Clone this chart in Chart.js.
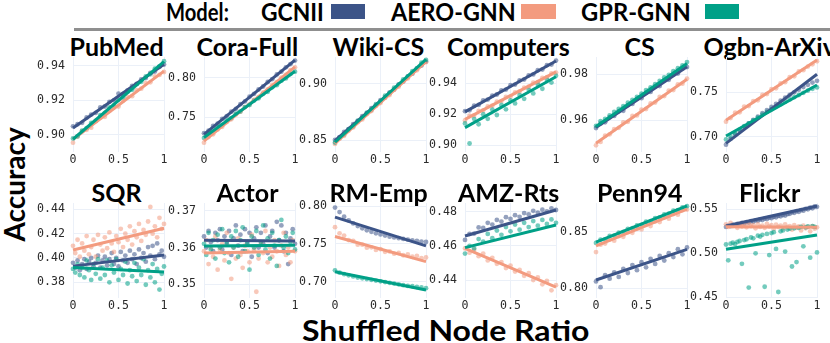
<!DOCTYPE html>
<html><head><meta charset="utf-8">
<script src="https://cdn.jsdelivr.net/npm/chart.js@4.4.0/dist/chart.umd.min.js"></script>
<style>
html,body{margin:0;padding:0;background:#fff;}
#wrap{position:relative;width:830px;height:343px;overflow:hidden;font-family:Lato,'Open Sans',sans-serif;color:#000;}
.t{position:absolute;white-space:nowrap;line-height:1;}
canvas{position:absolute;}
</style></head><body><div id="wrap"></div>
<script>
// ---------------- DATA ----------------
const models = ['GCNII','AERO-GNN','GPR-GNN'];
const panelTitles = ['PubMed','Cora-Full','Wiki-CS','Computers','CS','Ogbn-ArXiv','SQR','Actor','RM-Emp','AMZ-Rts','Penn94','Flickr'];
const ratios = [0,0.05,0.1,0.15,0.2,0.25,0.3,0.35,0.4,0.45,0.5,0.55,0.6,0.65,0.7,0.75,0.8,0.85,0.9,0.95,1];
const ratiosFine = [0,0.025,0.05,0.075,0.1,0.125,0.15,0.175,0.2,0.225,0.25,0.275,0.3,0.325,0.35,0.375,0.4,0.425,0.45,0.475,0.5,0.525,0.55,0.575,0.6,0.625,0.65,0.675,0.7,0.725,0.75,0.775,0.8,0.825,0.85,0.875,0.9,0.925,0.95,0.975,1];
const xTickValues = [0,0.5,1];
const xTickLabels = ['0','0.5','1'];

const PubMed_GCNII = [0.9050,0.9062,0.9070,0.9101,0.9118,0.9128,0.9160,0.9165,0.9192,0.9201,0.9240,0.9238,0.9258,0.9285,0.9296,0.9322,0.9330,0.9360,0.9368,0.9395,0.9408];
const PubMed_AERO  = [0.8955,0.8990,0.9022,0.9030,0.9042,0.9080,0.9100,0.9105,0.9140,0.9160,0.9165,0.9198,0.9220,0.9225,0.9260,0.9268,0.9300,0.9305,0.9340,0.9348,0.9365];
const PubMed_GPR   = [0.8980,0.8992,0.9025,0.9040,0.9070,0.9082,0.9115,0.9128,0.9160,0.9172,0.9205,0.9218,0.9250,0.9262,0.9295,0.9308,0.9340,0.9352,0.9385,0.9398,0.9428];
const PubMed_trend = [[0.904,0.941],[0.8975,0.937],[0.8975,0.9425]];
const PubMed_yticks = [0.90,0.92,0.94];
const PubMed_yrange = [0.8901,0.9452];

const CoraFull_GCNII = [0.7300,0.7330,0.7390,0.7420,0.7480,0.7515,0.7570,0.7605,0.7665,0.7700,0.7760,0.7795,0.7850,0.7888,0.7945,0.7980,0.8040,0.8075,0.8130,0.8170,0.8215];
const CoraFull_AERO  = [0.7180,0.7250,0.7285,0.7345,0.7380,0.7440,0.7475,0.7535,0.7570,0.7628,0.7660,0.7720,0.7755,0.7815,0.7850,0.7908,0.7942,0.8000,0.8035,0.8095,0.8130];
const CoraFull_GPR   = [0.7240,0.7295,0.7320,0.7378,0.7405,0.7460,0.7490,0.7545,0.7572,0.7628,0.7655,0.7710,0.7740,0.7795,0.7822,0.7878,0.7905,0.7962,0.7990,0.8045,0.8075];
const CoraFull_trend = [[0.7285,0.822],[0.720,0.8135],[0.7245,0.808]];
const CoraFull_yticks = [0.75,0.80];
const CoraFull_yrange = [0.7062,0.826];

const WikiCS_GCNII = [0.8500,0.8525,0.8572,0.8598,0.8642,0.8668,0.8712,0.8740,0.8784,0.8810,0.8855,0.8880,0.8926,0.8950,0.8996,0.9022,0.9068,0.9092,0.9138,0.9165,0.9200];
const WikiCS_AERO  = [0.8465,0.8512,0.8538,0.8585,0.8612,0.8660,0.8684,0.8732,0.8758,0.8805,0.8830,0.8878,0.8902,0.8950,0.8976,0.9024,0.9050,0.9096,0.9122,0.9170,0.9195];
const WikiCS_GPR   = [0.8478,0.8522,0.8550,0.8598,0.8622,0.8672,0.8698,0.8745,0.8770,0.8820,0.8845,0.8895,0.8918,0.8968,0.8992,0.9042,0.9066,0.9115,0.9140,0.9190,0.9215];
const WikiCS_trend = [[0.8495,0.9205],[0.847,0.920],[0.848,0.922]];
const WikiCS_yticks = [0.85,0.90];
const WikiCS_yrange = [0.8393,0.9241];

const Computers_GCNII = [0.9220,0.9225,0.9255,0.9260,0.9290,0.9295,0.9320,0.9328,0.9355,0.9360,0.9388,0.9392,0.9420,0.9425,0.9452,0.9458,0.9485,0.9490,0.9518,0.9522,0.9548];
const Computers_AERO  = [0.9160,0.9190,0.9192,0.9222,0.9225,0.9250,0.9255,0.9282,0.9285,0.9312,0.9315,0.9342,0.9348,0.9372,0.9378,0.9405,0.9408,0.9435,0.9440,0.9465,0.9470];
const Computers_GPR   = [0.9140,0.9010,0.9170,0.9135,0.9200,0.9170,0.9230,0.9195,0.9260,0.9232,0.9290,0.9270,0.9325,0.9300,0.9360,0.9335,0.9395,0.9365,0.9425,0.9405,0.9450];
const Computers_trend = [[0.9215,0.9545],[0.9167,0.9475],[0.9113,0.9443]];
const Computers_yticks = [0.90,0.92,0.94];
const Computers_yrange = [0.8955,0.9571];

const CS_GCNII = [0.9565,0.9585,0.9590,0.9612,0.9618,0.9638,0.9640,0.9665,0.9670,0.9692,0.9695,0.9718,0.9722,0.9745,0.9748,0.9772,0.9775,0.9798,0.9802,0.9824,0.9830];
const CS_AERO  = [0.9490,0.9505,0.9532,0.9538,0.9560,0.9566,0.9590,0.9592,0.9618,0.9620,0.9645,0.9648,0.9672,0.9676,0.9700,0.9704,0.9728,0.9730,0.9755,0.9758,0.9780];
const CS_GPR   = [0.9575,0.9595,0.9605,0.9620,0.9635,0.9648,0.9660,0.9675,0.9688,0.9700,0.9715,0.9730,0.9742,0.9756,0.9770,0.9785,0.9796,0.9812,0.9825,0.9838,0.9852];
const CS_trend = [[0.9567,0.9832],[0.9499,0.9777],[0.9572,0.9846]];
const CS_yticks = [0.96,0.98];
const CS_yrange = [0.9461,0.9874];

const Arxiv_GCNII = [0.6910,0.6975,0.7025,0.7070,0.7110,0.7150,0.7190,0.7225,0.7265,0.7300,0.7335,0.7370,0.7405,0.7440,0.7470,0.7500,0.7530,0.7560,0.7585,0.7610,0.7630];
const Arxiv_AERO  = [0.7170,0.7210,0.7270,0.7275,0.7340,0.7345,0.7400,0.7410,0.7470,0.7480,0.7535,0.7545,0.7600,0.7615,0.7670,0.7680,0.7735,0.7750,0.7790,0.7815,0.7850];
const Arxiv_GPR   = [0.6970,0.7000,0.7040,0.7080,0.7120,0.7150,0.7185,0.7215,0.7250,0.7280,0.7310,0.7340,0.7365,0.7395,0.7420,0.7445,0.7470,0.7495,0.7520,0.7540,0.7555];
const Arxiv_trend = [[0.6925,0.7703],[0.7187,0.7865],[0.7008,0.7582]];
const Arxiv_yticks = [0.70,0.75];
const Arxiv_yrange = [0.6828,0.7898];

const SQR_GCNII = [0.3960,0.3920,0.3980,0.3900,0.3950,0.3990,0.3910,0.3970,0.4000,0.3930,0.3960,0.4020,0.3920,0.3980,0.4010,0.3940,0.3990,0.4040,0.3950,0.4000,0.3930,0.4050,0.3980,0.4020,0.3960,0.4060,0.3990,0.4030,0.3950,0.4070,0.4000,0.4040,0.3970,0.4090,0.4020,0.4100,0.3990,0.4120,0.4030,0.4060,0.4010];
const SQR_AERO  = [0.4100,0.4040,0.4150,0.4010,0.4120,0.4060,0.4180,0.4030,0.4090,0.4150,0.4010,0.4190,0.4110,0.4060,0.4170,0.4080,0.4210,0.4120,0.4050,0.4180,0.4130,0.4240,0.4090,0.4200,0.4150,0.4260,0.4110,0.4220,0.4170,0.4280,0.4140,0.4230,0.4190,0.4300,0.4420,0.4200,0.4260,0.4170,0.4330,0.4240,0.4280];
const SQR_GPR   = [0.3910,0.3880,0.3950,0.3860,0.3920,0.3840,0.3980,0.3900,0.3820,0.3950,0.3870,0.3990,0.3830,0.3920,0.3860,0.3980,0.3800,0.3940,0.3880,0.3990,0.3820,0.3910,0.3860,0.3970,0.3790,0.3900,0.3850,0.3960,0.3810,0.3920,0.3860,0.3990,0.3780,0.3900,0.3840,0.3950,0.3800,0.3910,0.3740,0.3870,0.3930];
const SQR_trend = [[0.3933,0.4024],[0.4065,0.4244],[0.3922,0.3884]];
const SQR_yticks = [0.38,0.40,0.42,0.44];
const SQR_yrange = [0.3671,0.4452];

const Actor_GCNII = [0.3630,0.3600,0.3645,0.3615,0.3590,0.3640,0.3620,0.3650,0.3595,0.3630,0.3610,0.3645,0.3580,0.3625,0.3660,0.3605,0.3635,0.3590,0.3650,0.3615,0.3640,0.3575,0.3625,0.3655,0.3600,0.3640,0.3610,0.3660,0.3585,0.3630,0.3645,0.3600,0.3670,0.3620,0.3660,0.3590,0.3640,0.3555,0.3625,0.3650,0.3610];
const Actor_AERO  = [0.3590,0.3620,0.3555,0.3600,0.3575,0.3630,0.3540,0.3595,0.3610,0.3565,0.3640,0.3585,0.3515,0.3600,0.3570,0.3625,0.3580,0.3545,0.3605,0.3590,0.3560,0.3635,0.3595,0.3480,0.3570,0.3610,0.3585,0.3645,0.3560,0.3600,0.3575,0.3620,0.3590,0.3550,0.3605,0.3640,0.3580,0.3600,0.3560,0.3620,0.3590];
const Actor_GPR   = [0.3610,0.3580,0.3640,0.3595,0.3620,0.3570,0.3635,0.3600,0.3650,0.3585,0.3615,0.3560,0.3630,0.3600,0.3645,0.3575,0.3620,0.3655,0.3590,0.3610,0.3540,0.3630,0.3600,0.3645,0.3580,0.3615,0.3660,0.3595,0.3625,0.3570,0.3640,0.3605,0.3550,0.3620,0.3675,0.3600,0.3630,0.3585,0.3615,0.3640,0.3595];
const Actor_trend = [[0.362,0.3618],[0.3585,0.359],[0.3604,0.3606]];
const Actor_yticks = [0.35,0.36,0.37];
const Actor_yrange = [0.3463,0.3721];

const RMEmp_GCNII = [0.7980,0.7920,0.7860,0.7810,0.7770,0.7735,0.7705,0.7680,0.7660,0.7640,0.7625,0.7610,0.7595,0.7585,0.7575,0.7565,0.7555,0.7545,0.7540,0.7530,0.7525];
const RMEmp_AERO  = [0.7720,0.7640,0.7610,0.7550,0.7540,0.7490,0.7490,0.7450,0.7455,0.7420,0.7430,0.7395,0.7400,0.7370,0.7380,0.7350,0.7360,0.7330,0.7340,0.7310,0.7320];
const RMEmp_GPR   = [0.7150,0.7120,0.7100,0.7085,0.7070,0.7055,0.7045,0.7035,0.7025,0.7015,0.7005,0.6995,0.6985,0.6975,0.6965,0.6955,0.6945,0.6940,0.6930,0.6925,0.6915];
const RMEmp_trend = [[0.7853,0.7474],[0.7597,0.7266],[0.7132,0.6890]];
const RMEmp_yticks = [0.70,0.75,0.80];
const RMEmp_yrange = [0.6785,0.804];

const AMZ_GCNII = [0.4635,0.4670,0.4672,0.4708,0.4705,0.4735,0.4725,0.4752,0.4742,0.4768,0.4758,0.4780,0.4770,0.4792,0.4785,0.4805,0.4795,0.4812,0.4802,0.4820,0.4810];
const AMZ_AERO  = [0.4585,0.4560,0.4578,0.4540,0.4555,0.4515,0.4530,0.4495,0.4505,0.4470,0.4485,0.4450,0.4460,0.4425,0.4440,0.4400,0.4415,0.4375,0.4395,0.4340,0.4370];
const AMZ_GPR   = [0.4555,0.4600,0.4585,0.4640,0.4625,0.4670,0.4645,0.4690,0.4665,0.4710,0.4685,0.4725,0.4695,0.4735,0.4710,0.4745,0.4718,0.4752,0.4728,0.4755,0.4735];
const AMZ_trend = [[0.4658,0.481],[0.4586,0.4358],[0.459,0.4722]];
const AMZ_yticks = [0.44,0.46,0.48];
const AMZ_yrange = [0.4295,0.4851];

const Penn94_GCNII = [0.8060,0.8010,0.8115,0.8085,0.8140,0.8100,0.8170,0.8135,0.8205,0.8160,0.8230,0.8185,0.8260,0.8215,0.8285,0.8245,0.8310,0.8275,0.8345,0.8300,0.8360];
const Penn94_AERO  = [0.8320,0.8385,0.8395,0.8430,0.8420,0.8460,0.8455,0.8495,0.8490,0.8525,0.8520,0.8560,0.8550,0.8590,0.8585,0.8625,0.8615,0.8655,0.8650,0.8690,0.8695];
const Penn94_GPR   = [0.8400,0.8430,0.8432,0.8462,0.8465,0.8492,0.8498,0.8525,0.8530,0.8555,0.8560,0.8588,0.8592,0.8620,0.8625,0.8652,0.8658,0.8685,0.8690,0.8715,0.8725];
const Penn94_trend = [[0.8073,0.8344],[0.8374,0.8698],[0.8407,0.8727]];
const Penn94_yticks = [0.80,0.85];
const Penn94_yrange = [0.7914,0.8753];

const Flickr_GCNII = [0.5300,0.5315,0.5308,0.5325,0.5318,0.5335,0.5330,0.5345,0.5338,0.5355,0.5350,0.5365,0.5358,0.5375,0.5370,0.5385,0.5378,0.5395,0.5390,0.5405,0.5400,0.5415,0.5410,0.5425,0.5420,0.5435,0.5430,0.5445,0.5450,0.5465,0.5460,0.5478,0.5472,0.5490,0.5485,0.5505,0.5500,0.5518,0.5512,0.5532,0.5528];
const Flickr_AERO  = [0.5330,0.5300,0.5345,0.5310,0.5320,0.5290,0.5335,0.5305,0.5325,0.5295,0.5340,0.5310,0.5320,0.5285,0.5330,0.5300,0.5315,0.5290,0.5335,0.5305,0.5320,0.5280,0.5325,0.5300,0.5315,0.5285,0.5330,0.5295,0.5310,0.5270,0.5320,0.5290,0.5305,0.5260,0.5315,0.5285,0.5300,0.5250,0.5310,0.5280,0.5295];
const Flickr_GPR   = [0.5100,0.4920,0.5110,0.5120,0.5105,0.5130,0.5140,0.4880,0.5150,0.5160,0.4610,0.5180,0.5170,0.5000,0.5200,0.5190,0.5210,0.4620,0.5220,0.4980,0.5230,0.5240,0.5050,0.4560,0.5250,0.5260,0.5020,0.5270,0.5280,0.4850,0.5285,0.4900,0.5290,0.5300,0.5080,0.5295,0.5305,0.4950,0.5310,0.5300,0.5010];
const Flickr_trend = [[0.531,0.5538],[0.5303,0.5295],[0.5045,0.5208]];
const Flickr_yticks = [0.45,0.50,0.55];
const Flickr_yrange = [0.4492,0.5572];

// ---------------- BUILD ----------------
const lineColors = ['#3C5488','#F39B7F','#00A087'];
const pointColors = ['rgba(60,84,136,0.55)','rgba(243,155,127,0.55)','rgba(0,160,135,0.55)'];

const panels = [
  {x:ratios, pts:[PubMed_GCNII,PubMed_AERO,PubMed_GPR], trend:PubMed_trend, yt:PubMed_yticks, yr:PubMed_yrange},
  {x:ratios, pts:[CoraFull_GCNII,CoraFull_AERO,CoraFull_GPR], trend:CoraFull_trend, yt:CoraFull_yticks, yr:CoraFull_yrange},
  {x:ratios, pts:[WikiCS_GCNII,WikiCS_AERO,WikiCS_GPR], trend:WikiCS_trend, yt:WikiCS_yticks, yr:WikiCS_yrange},
  {x:ratios, pts:[Computers_GCNII,Computers_AERO,Computers_GPR], trend:Computers_trend, yt:Computers_yticks, yr:Computers_yrange},
  {x:ratios, pts:[CS_GCNII,CS_AERO,CS_GPR], trend:CS_trend, yt:CS_yticks, yr:CS_yrange},
  {x:ratios, pts:[Arxiv_GCNII,Arxiv_AERO,Arxiv_GPR], trend:Arxiv_trend, yt:Arxiv_yticks, yr:Arxiv_yrange},
  {x:ratiosFine, pts:[SQR_GCNII,SQR_AERO,SQR_GPR], trend:SQR_trend, yt:SQR_yticks, yr:SQR_yrange},
  {x:ratiosFine, pts:[Actor_GCNII,Actor_AERO,Actor_GPR], trend:Actor_trend, yt:Actor_yticks, yr:Actor_yrange},
  {x:ratios, pts:[RMEmp_GCNII,RMEmp_AERO,RMEmp_GPR], trend:RMEmp_trend, yt:RMEmp_yticks, yr:RMEmp_yrange},
  {x:ratios, pts:[AMZ_GCNII,AMZ_AERO,AMZ_GPR], trend:AMZ_trend, yt:AMZ_yticks, yr:AMZ_yrange},
  {x:ratios, pts:[Penn94_GCNII,Penn94_AERO,Penn94_GPR], trend:Penn94_trend, yt:Penn94_yticks, yr:Penn94_yrange},
  {x:ratiosFine, pts:[Flickr_GCNII,Flickr_AERO,Flickr_GPR], trend:Flickr_trend, yt:Flickr_yticks, yr:Flickr_yrange}
];

const wrap = document.getElementById('wrap');
const TEXT_FONT = 'Lato, "Open Sans", sans-serif';

function addText(txt, o){
  const d = document.createElement('div');
  d.className = 't';
  d.style.fontFamily = TEXT_FONT;
  d.style.fontSize = o.size + 'px';
  d.style.fontWeight = o.weight || 700;
  d.textContent = txt;
  const probe = document.createElement('span');
  probe.style.cssText = 'display:inline-block;width:0;height:0;vertical-align:baseline;';
  d.appendChild(probe);
  wrap.appendChild(d);
  const w = d.offsetWidth, base = probe.offsetTop;
  const capMid = base - 0.358 * o.size;
  const k = o.width ? o.width / w : 1;
  if (o.rotate) {
    d.style.left = (o.cx - w / 2) + 'px';
    d.style.top = (o.cy - capMid) + 'px';
    d.style.transformOrigin = (w / 2) + 'px ' + capMid + 'px';
    d.style.transform = 'rotate(-90deg) scaleX(' + k + ')';
  } else {
    const left = (o.left !== undefined) ? o.left : o.cx - w * k / 2;
    d.style.left = left + 'px';
    d.style.top = (o.cy - capMid) + 'px';
    d.style.transformOrigin = '0 0';
    d.style.transform = 'scaleX(' + k + ')';
  }
  return d;
}
function addBox(l, t, w, h, c){
  const b = document.createElement('div');
  b.style.cssText = 'position:absolute;left:'+l+'px;top:'+t+'px;width:'+w+'px;height:'+h+'px;background:'+c+';';
  wrap.appendChild(b);
}

// legend
addText('Model:', {left:166, cy:12, size:25, weight:700, width:63});
addText(models[0], {left:261, cy:12, size:25, weight:700, width:63});
addBox(331, 4, 34, 15, lineColors[0]);
addText(models[1], {left:391, cy:12, size:25, weight:700, width:125});
addBox(521, 4, 35, 15, lineColors[1]);
addText(models[2], {left:581, cy:12, size:25, weight:700, width:110});
addBox(705, 4, 34, 15, lineColors[2]);
addBox(74, 28, 756, 3, '#8f8f8f');

// axis titles
addText('Shuffled Node Ratio', {cx:445, cy:331, size:29, weight:700, width:287});
addText('Accuracy', {cx:15, cy:185, size:29, weight:700, width:114, rotate:true});

Chart.defaults.font.family = '"DejaVu Sans Mono", monospace';

const PLOT_W = 91, PLOT_H = 95, YAX = 50, PADT = 6, PADR = 12, XAX = 20;
const rowTop = [57, 203];
const titleCy = [46.7, 192.7];

panels.forEach((p, idx) => {
  const col = idx % 6, row = Math.floor(idx / 6);
  const plotL = Math.round(73.4 + 130.6 * col);
  const plotT = rowTop[row];
  addText(panelTitles[idx], {cx: plotL + PLOT_W/2 - 2, cy: titleCy[row], size:25, weight:700});

  const cv = document.createElement('canvas');
  cv.width = YAX + PLOT_W + PADR;
  cv.height = PADT + PLOT_H + XAX;
  cv.style.left = (plotL - YAX) + 'px';
  cv.style.top = (plotT - PADT) + 'px';
  wrap.appendChild(cv);

  const ds = [];
  p.pts.forEach((arr, s) => {
    ds.push({type:'scatter', data: arr.map((v, k) => ({x: p.x[k], y: v})),
      backgroundColor: pointColors[s], borderWidth: 0, pointRadius: 2.4,
      pointHoverRadius: 2.4, order: 12 - s, clip: false});
  });
  p.trend.forEach((tr, s) => {
    ds.push({type:'line', data:[{x:0, y:tr[0]}, {x:1, y:tr[1]}],
      borderColor: lineColors[s], borderWidth: 3, pointRadius: 0, fill: false,
      order: 2 - s, clip: false});
  });

  new Chart(cv, {
    type: 'scatter',
    data: {datasets: ds},
    options: {
      animation: false, responsive: false, devicePixelRatio: 1,
      events: [],
      layout: {padding: {left: 0, top: PADT, right: PADR, bottom: 0}},
      plugins: {legend: {display: false}, tooltip: {enabled: false}, title: {display: false}},
      scales: {
        x: {
          type: 'linear', min: 0, max: 1,
          afterBuildTicks: sc => { sc.ticks = xTickValues.map(v => ({value: v})); },
          afterFit: sc => { sc.height = XAX; sc.paddingLeft = 0; sc.paddingRight = 0; },
          ticks: {autoSkip: false, maxRotation: 0, minRotation: 0, padding: 1, color: '#2b2b2b',
                  font: {size: 11.6}, callback: (v, i) => xTickLabels[i]},
          grid: {color: '#EBF0F8', drawTicks: false, lineWidth: 1},
          border: {display: false}
        },
        y: {
          type: 'linear', min: p.yr[0], max: p.yr[1],
          afterBuildTicks: sc => { sc.ticks = p.yt.map(v => ({value: v})); },
          afterFit: sc => { sc.width = YAX; sc.paddingTop = 0; sc.paddingBottom = 0; },
          ticks: {autoSkip: false, padding: 8, color: '#2b2b2b', font: {size: 11.6},
                  callback: (v, i) => p.yt[i].toFixed(2)},
          grid: {color: '#EBF0F8', drawTicks: false, lineWidth: 1},
          border: {display: false}
        }
      }
    }
  });
});
</script>
</body></html>
